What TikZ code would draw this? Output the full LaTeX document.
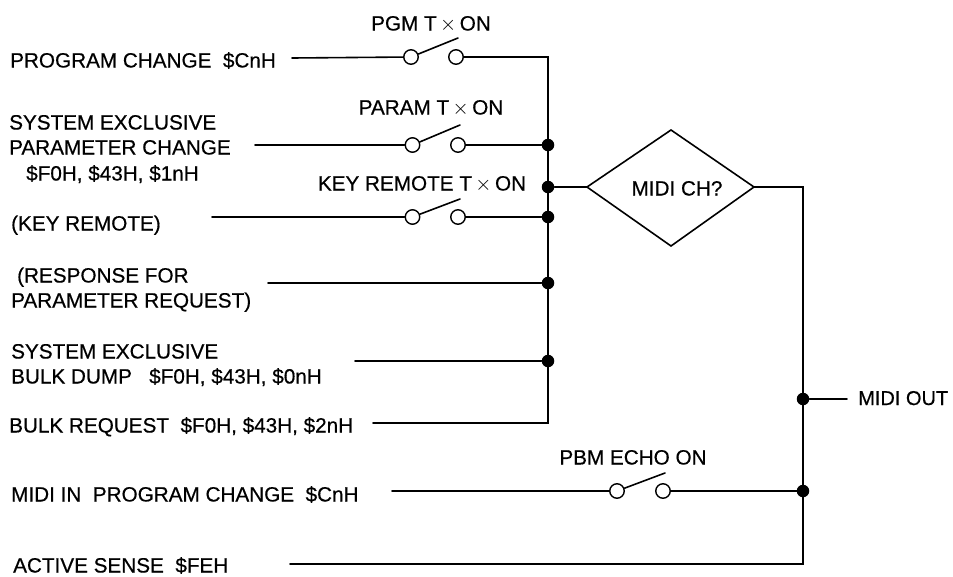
\documentclass[tikz,border=0pt]{standalone}
\usepackage{fontspec}
\setmainfont[FakeBold=0.5]{Liberation Sans}
\tikzset{
  x=1pt,y=-1pt,
  wire/.style={line width=1.6pt,line cap=round,line join=miter},
  contact/.style={circle,draw,line width=1.4pt,fill=white,minimum size=14.5pt,inner sep=0pt},
  dotj/.style={circle,fill=black,minimum size=12.5pt,inner sep=0pt},
  lab/.style={font=\fontsize{20.7}{24}\selectfont,inner sep=0pt,anchor=base west},
  swl/.style={font=\fontsize{20.7}{24}\selectfont,inner sep=0pt,anchor=base},
  decis/.style={draw,line width=1.6pt,fill=white}
}
\begin{document}
\begin{tikzpicture}
\useasboundingbox (0,0) rectangle (953,576);
% labels
\node[lab] (t1) at (10,67.5) {PROGRAM CHANGE\ \ \$CnH};
\node[lab] (t2a) at (9,129.5) {SYSTEM EXCLUSIVE};
\node[lab] (t2b) at (9,154.5) {PARAMETER CHANGE};
\node[lab] (t2c) at (26,180.5) {\$F0H, \$43H, \$1nH};
\node[lab] (t3) at (11,230.5) {(KEY REMOTE)};
\node[lab] (t4a) at (17,282.5) {(RESPONSE FOR};
\node[lab] (t4b) at (11,307.5) {PARAMETER REQUEST)};
\node[lab] (t5a) at (11,358.5) {SYSTEM EXCLUSIVE};
\node[lab] (t5b) at (11,383.5) {BULK DUMP\ \ \ \$F0H, \$43H, \$0nH};
\node[lab] (t6) at (9,432.5) {BULK REQUEST\ \ \$F0H, \$43H, \$2nH};
\node[lab] (t7) at (11,501.5) {MIDI IN\ \ PROGRAM CHANGE\ \ \$CnH};
\node[lab] (t8) at (13,572.5) {ACTIVE SENSE\ \ \$FEH};
\node[lab,font=\fontsize{20}{24}\selectfont] (tout) at (858,405) {MIDI OUT};
\node[swl] (s1) at (431,30.5) {PGM T\,$\times$\,ON};
\node[swl] (s2) at (431,114.5) {PARAM T\,$\times$\,ON};
\node[swl] (s3) at (422,190.5) {KEY REMOTE T\,$\times$\,ON};
\node[swl] (s4) at (633,464.5) {PBM ECHO ON};
% free ends
\coordinate (e1) at (292,58);
\coordinate (e2) at (255,145);
\coordinate (e3) at (212,217);
\coordinate (e4) at (268,283);
\coordinate (e5) at (355,361);
\coordinate (e6) at (373,423);
\coordinate (e7) at (392,491);
\coordinate (e8) at (290,564);
\coordinate (bt) at (548,57);
\coordinate (bb) at (548,423);
\coordinate (ot) at (803,187);
\coordinate (ob) at (803,564);
\coordinate (oe) at (847,399);
% contacts
\node[contact] (a1) at (411,57) {}; \node[contact] (b1) at (456,57) {};
\node[contact] (a2) at (412.5,145) {}; \node[contact] (b2) at (458,145) {};
\node[contact] (a3) at (412.5,217) {}; \node[contact] (b3) at (458,217) {};
\node[contact] (a7) at (617,491) {}; \node[contact] (b7) at (663,491) {};
% levers
\coordinate (l1) at (458,38); \coordinate (l2) at (460,125); \coordinate (l3) at (460,199); \coordinate (l7) at (665,473);
% diamond
\path[decis] (587,187) -- (671,130) -- (754,187) -- (671,246) -- cycle;
\coordinate (dl) at (587,187); \coordinate (dr) at (754,187);
\node[font=\fontsize{20.7}{24}\selectfont,inner sep=0pt,anchor=base] (dt) at (677,195.5) {MIDI CH?};
% junctions
\node[dotj] (j2) at (548,145) {};
\node[dotj] (j3) at (548,187) {};
\node[dotj] (j3b) at (548,217) {};
\node[dotj] (j4) at (548,283) {};
\node[dotj] (j5) at (548,361) {};
\node[dotj] (jo) at (803,399) {};
\node[dotj] (j7) at (803,491) {};
% wires
\draw[wire] (e1) -- (a1);
\draw[wire] (b1) -- (bt) -- (bb) -- (e6);
\draw[wire] (e2) -- (a2);
\draw[wire] (b2) -- (j2);
\draw[wire] (e3) -- (a3);
\draw[wire] (b3) -- (j3b);
\draw[wire] (e4) -- (j4);
\draw[wire] (e5) -- (j5);
\draw[wire] (j3) -- (dl);
\draw[wire] (dr) -- (ot) -- (ob) -- (e8);
\draw[wire] (jo) -- (oe);
\draw[wire] (e7) -- (a7);
\draw[wire] (b7) -- (j7);
\draw[wire] (a1) -- (l1);
\draw[wire] (a2) -- (l2);
\draw[wire] (a3) -- (l3);
\draw[wire] (a7) -- (l7);
\end{tikzpicture}
\end{document}
